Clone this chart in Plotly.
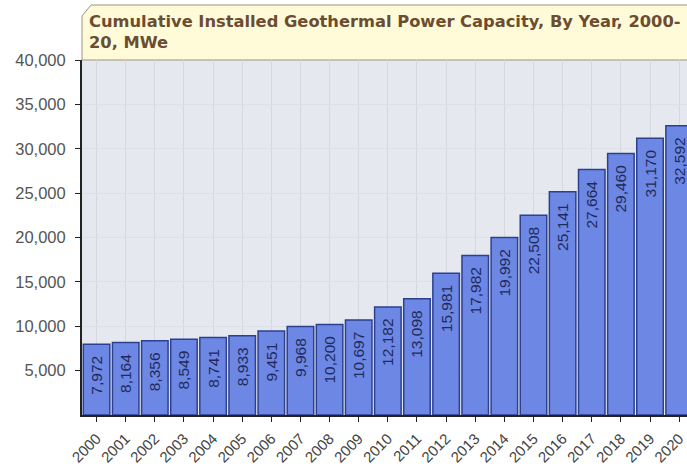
import plotly.graph_objects as go

# Cumulative installed geothermal capacity (MWe)
years = [str(y) for y in range(2000, 2021)]
capacity = [7972, 8164, 8356, 8549, 8741, 8933, 9451, 9968, 10200, 10697,
            12182, 13098, 15981, 17982, 19992, 22508, 25141, 27664, 29460,
            31170, 32592]
y_ticks = [5000, 10000, 15000, 20000, 25000, 30000, 35000, 40000]
title_text = "Cumulative Installed Geothermal Power Capacity, By Year, 2000-<br>20, MWe"

W, H = 687, 470
ML, MR, MT, MB = 82, 0, 60, 55
plot_w = W - ML - MR
plot_h = H - MT - MB

# value labels sit a little below the bar top: pad with non-breaking spaces
labels = [f"{v:,}\u00a0\u00a0" for v in capacity]

fig = go.Figure()
fig.add_trace(go.Bar(
    x=years,
    y=capacity,
    text=labels,
    textposition="inside",
    insidetextanchor="end",
    textangle=-90,
    textfont=dict(family="Liberation Sans, Arial, sans-serif", size=15.5, color="#1f2b5c"),
    marker=dict(color="#6d87e4", line=dict(color="#2d4090", width=1.5)),
    cliponaxis=True,
    hoverinfo="skip",
))

# title box with bevelled top-left corner, drawn in the top margin
top = 1 + (MT - 5) / plot_h
bev_x = 9 / plot_w
bev_y = 11 / plot_h
fig.add_shape(
    type="path", xref="paper", yref="paper",
    path=(f"M 0 1 L 0 {top - bev_y} L {bev_x} {top} L 1.02 {top} "
          f"L 1.02 1 Z"),
    fillcolor="#fffbd8", line=dict(color="#9b937f", width=1), layer="below",
)
fig.add_annotation(
    xref="paper", yref="paper", x=0, y=top, xanchor="left", yanchor="top",
    xshift=5, yshift=-5, align="left", showarrow=False,
    text=f"<b>{title_text}</b>",
    font=dict(family="DejaVu Sans, Verdana, sans-serif", size=16.3, color="#6b4d32"),
)

fig.update_layout(
    width=W, height=H,
    margin=dict(l=ML, r=MR, t=MT, b=MB, pad=0),
    paper_bgcolor="white",
    plot_bgcolor="#e5e8ef",
    bargap=0.09,
    showlegend=False,
    xaxis=dict(
        type="category",
        range=[-0.5, 20.27],
        tickangle=-45,
        tickfont=dict(family="Liberation Sans, Arial, sans-serif", size=15, color="#444444"),
        ticks="outside", ticklen=5, tickcolor="#222222",
        ticklabelstandoff=2,
        showline=True, linecolor="#222222", linewidth=2,
        showgrid=True, gridcolor="#d5d8df", gridwidth=1,
    ),
    yaxis=dict(
        range=[0, 40000],
        tickvals=y_ticks,
        ticktext=[f"{v:,}" for v in y_ticks],
        tickfont=dict(family="Liberation Sans, Arial, sans-serif", size=16.5, color="#555555"),
        ticks="outside", ticklen=5, tickcolor="#222222",
        ticklabelstandoff=6,
        showline=True, linecolor="#222222", linewidth=2,
        showgrid=True, gridcolor="#dde0e7", gridwidth=1,
        zeroline=False,
    ),
)

fig.write_html("out.html")
